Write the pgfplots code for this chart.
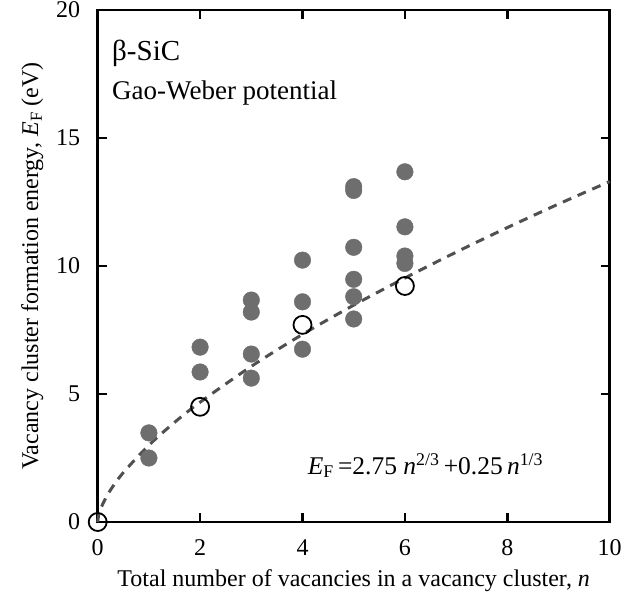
\documentclass[border=0pt]{standalone}
\usepackage{fontspec}
\setmainfont{Liberation Serif}
\usepackage{pgfplots}
\pgfplotsset{compat=1.18}
\definecolor{dotgray}{HTML}{6E6E6E}
\definecolor{linegray}{HTML}{505050}
\newcommand{\EF}{\textit{E}\textsubscript{F}}
\begin{document}
\begin{tikzpicture}
\path[use as bounding box] (-97.7pt,-75pt) rectangle (542.3pt,522pt);
\begin{axis}[
  at={(0,0)}, anchor=south west,
  width=512pt, height=512pt, scale only axis,
  xmin=0, xmax=10, ymin=0, ymax=20,
  xtick={0,2,...,10}, ytick={0,5,...,20},
  tick align=inside, major tick length=9pt,
  tick style={line width=2.8pt, black},
  axis line style={line width=2.8pt},
  ticklabel style={font=\fontsize{24}{28}\selectfont},
  /pgf/number format/assume math mode=true,
  xticklabel style={yshift=-14pt},
  yticklabel style={xshift=-14pt},
  xlabel={Total number of vacancies in a vacancy cluster, \textit{n}},
  ylabel={Vacancy cluster formation energy, \EF\ (eV)},
  label style={font=\fontsize{24}{28}\selectfont},
  xlabel style={yshift=-7pt},
  ylabel style={yshift=6pt},
  clip=false,
]
% fitted curve
\addplot[linegray, line width=3pt, dash pattern=on 9pt off 7pt, smooth] coordinates {
  (0,0)(0.02,0.27)(0.1,0.71)(0.25,1.25)(0.5,1.93)(1,3.0)(1.5,3.89)(2,4.68)
  (3,6.08)(4,7.33)(5,8.47)(6,9.53)(7,10.54)(8,11.5)(9,12.42)(10,13.3)
};
% simulation results
\addplot[only marks, mark=*, mark size=8.3pt, dotgray, mark options={draw=none, fill=dotgray}] coordinates {
  (1,3.48)(1,2.5)
  (2,6.83)(2,5.86)
  (3,8.67)(3,8.2)(3,6.56)(3,5.62)
  (4,10.23)(4,8.6)(4,6.75)
  (5,13.1)(5,12.95)(5,10.73)(5,9.48)(5,8.8)(5,7.93)
  (6,13.68)(6,11.53)(6,10.39)(6,10.1)
};
% formula values
\addplot[only marks, mark=o, mark size=9pt, mark options={line width=1.8pt, draw=black, fill=white}] coordinates {
  (0,0)(2,4.5)(4,7.7)(6,9.22)
};
\node[anchor=west, inner sep=0pt, font=\fontsize{29}{32}\selectfont] at (axis cs:0.28,18.3) {β-SiC};
\node[anchor=west, inner sep=0pt, font=\fontsize{27}{30}\selectfont] at (axis cs:0.28,16.75) {Gao-Weber potential};
\node[anchor=west, inner sep=0pt, font=\fontsize{25.5}{28}\selectfont] at (axis cs:4.1,2.2)
  {\EF\,=2.75\ \textit{n}\textsuperscript{2/3}\,+0.25\,\textit{n}\textsuperscript{1/3}};
\end{axis}
\end{tikzpicture}
\end{document}
